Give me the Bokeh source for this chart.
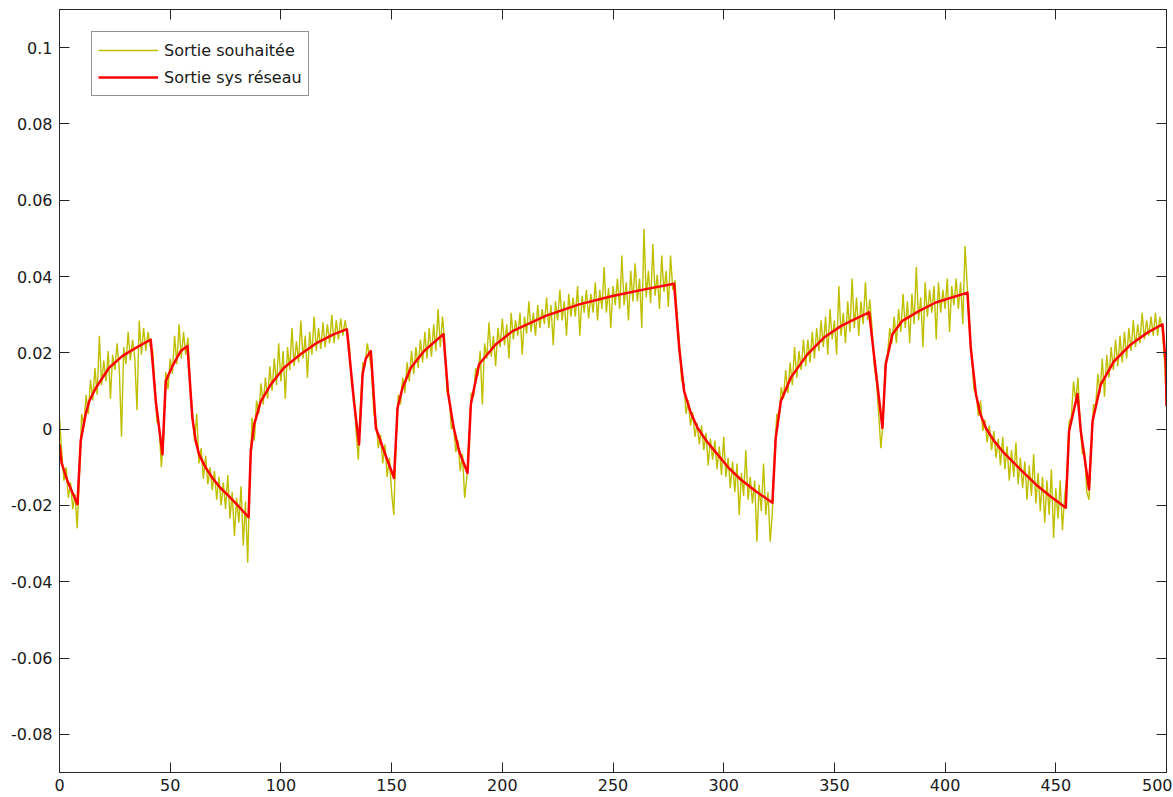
from bokeh.plotting import figure
from bokeh.models import (LinearAxis, FixedTicker, PrintfTickFormatter, Legend,
                          LegendItem, Range1d)
from bokeh.embed import file_html
from bokeh.resources import INLINE

# ---- data ----
sortie_souhaitee = [
    0.003, -0.006, -0.0135, -0.010, -0.018, -0.014, -0.021, -0.017, -0.026, -0.012,
    0.004, 0.001, 0.009, 0.004, 0.013, 0.0075, 0.016, 0.009, 0.0245, 0.0115,
    0.018, 0.0125, 0.0205, 0.008, 0.0195, 0.0155, 0.0225, 0.016, -0.002, 0.0215,
    0.017, 0.0255, 0.018, 0.0235, 0.0185, 0.005, 0.0285, 0.0195, 0.0265, 0.0205,
    0.0255, 0.0215, 0.021, 0.0125, 0.002, 0.001, -0.010, -0.002, 0.015, 0.0105,
    0.0185, 0.0145, 0.0245, 0.017, 0.0275, 0.0185, 0.0255, 0.0195, 0.024, 0.011,
    0.005, -0.003, 0.004, -0.009, -0.005, -0.013, -0.007, -0.0145, -0.010, -0.016,
    -0.011, -0.0185, -0.0125, -0.020, -0.014, -0.021, -0.012, -0.0235, -0.0165, -0.028,
    -0.018, -0.0245, -0.015, -0.0305, -0.019, -0.035, -0.012, 0.003, -0.003, 0.0075,
    0.004, 0.012, 0.0065, 0.0135, 0.008, 0.0165, 0.010, 0.0185, 0.0115, 0.0225,
    0.0125, 0.0205, 0.008, 0.0215, 0.0155, 0.0265, 0.0165, 0.023, 0.0175, 0.0285,
    0.0185, 0.0245, 0.0135, 0.0255, 0.0195, 0.0295, 0.0205, 0.0265, 0.021, 0.028,
    0.0215, 0.0275, 0.0225, 0.030, 0.0225, 0.0285, 0.0235, 0.029, 0.0245, 0.0285,
    0.025, 0.0215, 0.0115, 0.009, -0.001, -0.008, 0.007, 0.0175, 0.0165, 0.0225,
    0.019, 0.0155, 0.004, 0.0025, -0.005, -0.0015, -0.009, -0.004, -0.0125, -0.0075,
    -0.0165, -0.0225, -0.003, 0.009, 0.0065, 0.0135, 0.0095, 0.0175, 0.0125, 0.0205,
    0.0145, 0.0215, 0.016, 0.0235, 0.0175, 0.0255, 0.0185, 0.0265, 0.019, 0.0275,
    0.0205, 0.0315, 0.0215, 0.0295, 0.023, 0.010, 0.008, 0.0, 0.001, -0.006,
    -0.003, -0.011, -0.0065, -0.018, -0.0125, -0.002, 0.0095, 0.0085, 0.016, 0.014,
    0.0205, 0.0065, 0.0225, 0.0185, 0.028, 0.019, 0.0245, 0.0165, 0.0265, 0.0215,
    0.029, 0.022, 0.0275, 0.0185, 0.0305, 0.0235, 0.0285, 0.0245, 0.0305, 0.0195,
    0.0295, 0.025, 0.0335, 0.0255, 0.0305, 0.0245, 0.0325, 0.0265, 0.0315, 0.0275,
    0.0345, 0.0265, 0.0325, 0.022, 0.0335, 0.0285, 0.0365, 0.0285, 0.0335, 0.0245,
    0.0355, 0.0295, 0.0345, 0.0295, 0.0375, 0.0245, 0.035, 0.0305, 0.0365, 0.029,
    0.0355, 0.0305, 0.0385, 0.0285, 0.0365, 0.0315, 0.0425, 0.0305, 0.037, 0.0265,
    0.0375, 0.0325, 0.0395, 0.0315, 0.0455, 0.0325, 0.0385, 0.0285, 0.0415, 0.0335,
    0.0435, 0.0335, 0.0395, 0.0265, 0.0525, 0.0345, 0.0415, 0.033, 0.0485, 0.035,
    0.0405, 0.0315, 0.0455, 0.036, 0.0415, 0.032, 0.0455, 0.0365, 0.039, 0.0295,
    0.0225, 0.0125, 0.012, 0.004, 0.0075, 0.001, 0.0045, -0.002, 0.0015, -0.004,
    0.001, -0.0055, -0.001, -0.0095, -0.0025, -0.008, -0.003, -0.0105, -0.0045, -0.012,
    -0.002, -0.0125, -0.0075, -0.0155, -0.0085, -0.0165, -0.009, -0.0225, -0.0115, -0.0175,
    -0.0055, -0.0185, -0.0125, -0.0195, -0.0135, -0.0295, -0.0145, -0.0215, -0.009, -0.0225,
    -0.0165, -0.0295, -0.0215, -0.006, 0.004, 0.003, 0.011, 0.008, 0.0155, 0.0095,
    0.0175, 0.0115, 0.0215, 0.0135, 0.0205, 0.0155, 0.0235, 0.0165, 0.0235, 0.0175,
    0.0255, 0.0185, 0.0265, 0.0205, 0.0285, 0.0215, 0.0295, 0.0195, 0.0315, 0.0235,
    0.0285, 0.0195, 0.0375, 0.0245, 0.0305, 0.0225, 0.0335, 0.0255, 0.0395, 0.0265,
    0.0345, 0.0245, 0.0335, 0.0275, 0.0385, 0.0285, 0.034, 0.0265, 0.0165, 0.0125,
    0.004, -0.005, 0.002, 0.0175, 0.0195, 0.0265, 0.0225, 0.0295, 0.0225, 0.0315,
    0.0255, 0.0355, 0.0265, 0.0335, 0.0225, 0.0355, 0.0275, 0.0425, 0.0285, 0.0345,
    0.0215, 0.0385, 0.0295, 0.0365, 0.0305, 0.0375, 0.0235, 0.0385, 0.0305, 0.0365,
    0.0315, 0.0395, 0.0255, 0.0375, 0.0325, 0.0395, 0.0315, 0.0385, 0.0275, 0.048,
    0.0375, 0.0265, 0.0195, 0.0105, 0.0095, 0.0035, 0.0075, -0.0005, 0.0025, -0.0035,
    0.001, -0.0055, -0.0005, -0.0075, -0.0025, -0.0095, -0.002, -0.0105, -0.0045, -0.0135,
    -0.0055, -0.0125, -0.0035, -0.0145, -0.0075, -0.0155, -0.0085, -0.0185, -0.0095, -0.0175,
    -0.0065, -0.0195, -0.0115, -0.0215, -0.0125, -0.0245, -0.0135, -0.0225, -0.0105, -0.0285,
    -0.0155, -0.0235, -0.0135, -0.0265, -0.0175, -0.0125, 0.002, 0.003, 0.0125, 0.0075,
    0.0135, 0.001, -0.0065, -0.006, -0.0165, -0.0185, -0.006, 0.0065, 0.006, 0.0145,
    0.0095, 0.0185, 0.0085, 0.0195, 0.0135, 0.0215, 0.0155, 0.0235, 0.0165, 0.0245,
    0.0175, 0.0255, 0.0185, 0.0265, 0.0205, 0.0285, 0.0215, 0.0275, 0.0225, 0.0305,
    0.0235, 0.0285, 0.0245, 0.0295, 0.0245, 0.0305, 0.0245, 0.0295, 0.0265, 0.019,
    0.007,
]
t_souhaitee = list(range(len(sortie_souhaitee)))

reseau_x = [0, 1, 3.6, 8.1, 9.6, 11.8, 13.4, 16.4, 22.4, 28.5, 34.5, 41.2, 43.5, 46.5,
            48, 51, 54.8, 57.8, 60, 61.5, 63, 66, 69.1, 72.5, 76.6, 80.5, 85.4,
            86.4, 87.9, 90.9, 95.4,
            101.4, 109, 116.5, 124, 129.8, 133, 135.3, 136.9, 138.3, 140.6, 142.9,
            146.6, 151.1, 152.7, 154.9, 158.7, 164.7, 173.4, 175.5, 178, 180.5, 184.3,
            185.8, 189.5, 197, 204.6, 219.6, 234.7, 249.8, 264.8, 277.6, 279.9,
            282.1, 285, 288.2, 292.5, 297.2, 302, 307.7, 314.5, 322, 323.5, 325.8,
            330.3, 337.8, 345.3, 352.9, 359, 365.7, 368.7, 371.7, 373.2, 376.2,
            380.7, 388.3, 395.8, 410.1, 411.6, 413.9, 416, 418.4, 422, 425.9, 433.4,
            441, 447.5, 454.5, 456, 459.8, 461.3, 465,
            466.6, 470.3, 476.3, 483.9, 491.4, 498.2, 499.7, 500]
reseau_y = [-0.004, -0.009, -0.0136, -0.0197, -0.003, 0.0039, 0.0073, 0.0108, 0.0161,
            0.0192, 0.0213, 0.0235, 0.0073, -0.0066, 0.0126, 0.0165, 0.0205, 0.0218,
            0.003, -0.003, -0.0066, -0.0101, -0.0128, -0.0153, -0.0176, -0.0200, -0.0231,
            -0.0058, 0.0012, 0.0073,
            0.0117, 0.0161, 0.0197, 0.0227, 0.0249, 0.0262, 0.0073, -0.004, 0.0144,
            0.0184, 0.0205, 0.0003, -0.0058, -0.0128, 0.0056, 0.0108, 0.0161, 0.0205,
            0.0249, 0.0095, 0.0005, -0.0058, -0.0115, 0.0065, 0.017, 0.0222, 0.0257, 0.0297,
            0.0327, 0.0349, 0.0367, 0.0381, 0.0213, 0.01, 0.0045, 0.0003, -0.0033,
            -0.0066, -0.0100, -0.0132, -0.0163, -0.0193, -0.0023, 0.0073,
            0.0135, 0.0196, 0.024, 0.027, 0.0288, 0.0306, 0.0152, 0.0003, 0.017,
            0.0249, 0.0284, 0.031, 0.0332, 0.0358, 0.0213, 0.0092, 0.0038, 0.0003,
            -0.003, -0.0058, -0.0102, -0.0145, -0.0176, -0.0206, -0.0005, 0.0092,
            -0.0005, -0.0158, 0.0021, 0.0117, 0.0178, 0.0222, 0.0253, 0.0275, 0.017,
            0.006]

x_ticks = [0, 50, 100, 150, 200, 250, 300, 350, 400, 450, 500]
y_ticks = [-0.08, -0.06, -0.04, -0.02, 0, 0.02, 0.04, 0.06, 0.08, 0.1]
labels = ["Sortie souhaitée", "Sortie sys réseau"]

FONT = "DejaVu Sans"
AX = "#262626"

p = figure(width=1172, height=797, x_range=Range1d(0, 500), y_range=Range1d(-0.09, 0.11),
           output_backend="svg", toolbar_location=None,
           min_border_left=59, min_border_right=6, min_border_top=9, min_border_bottom=25)
p.background_fill_color = "white"
p.border_fill_color = "white"
p.outline_line_color = AX
p.outline_line_width = 1
p.xgrid.visible = False
p.ygrid.visible = False


def style(ax, ticks, show_labels):
    ax.ticker = FixedTicker(ticks=ticks)
    ax.major_tick_in = 10
    ax.major_tick_out = 0
    ax.minor_tick_line_color = None
    ax.axis_line_color = AX
    ax.major_tick_line_color = AX
    ax.major_label_text_font = FONT
    if show_labels:
        ax.major_label_text_font_size = "16px"
        ax.major_label_text_color = "#1a1a1a"
    else:
        ax.major_label_text_font_size = "1px"
        ax.major_label_text_color = None
        ax.major_label_standoff = 0


style(p.xaxis[0], x_ticks, True)
p.xaxis[0].major_label_standoff = 6
style(p.yaxis[0], y_ticks, True)
p.yaxis[0].major_label_standoff = 7
p.yaxis[0].formatter = PrintfTickFormatter(format="%g")

top = LinearAxis()
style(top, x_ticks, False)
p.add_layout(top, "above")
right = LinearAxis()
style(right, y_ticks, False)
p.add_layout(right, "right")

r1 = p.line(t_souhaitee, sortie_souhaitee, line_color="#BFBF00", line_width=1.4)
r2 = p.line(reseau_x, reseau_y, line_color="#FF0000", line_width=2.5,
            line_join="round")

legend = Legend(items=[LegendItem(label=labels[0], renderers=[r1]),
                       LegendItem(label=labels[1], renderers=[r2])],
                location=(32, 676), orientation="vertical",
                padding=6, spacing=3, margin=0,
                label_height=24, glyph_height=24, glyph_width=60, label_standoff=6,
                label_text_font=FONT, label_text_font_size="16px",
                label_text_color="#1a1a1a",
                border_line_color=AX, border_line_width=1,
                background_fill_color="white", background_fill_alpha=1)
p.add_layout(legend)

open("out.html", "w").write(file_html(p, INLINE))
